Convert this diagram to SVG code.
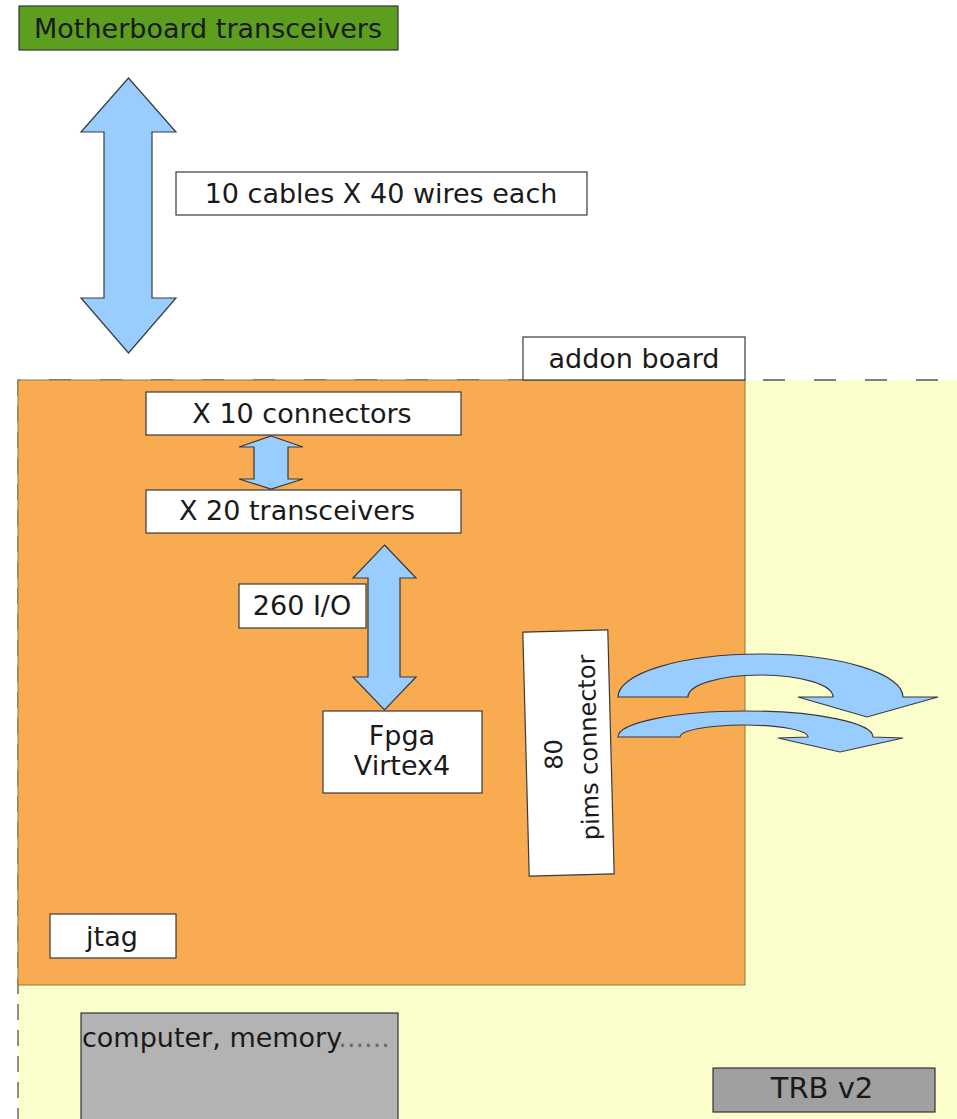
<svg xmlns="http://www.w3.org/2000/svg" width="957" height="1119" viewBox="0 0 957 1119">
<style>
text{font-family:"DejaVu Sans","Liberation Sans",sans-serif;font-size:27px;fill:#1a1a1a;text-anchor:middle}
.box{fill:#fff;stroke:#3a3a3a;stroke-width:1.2}
.arr{fill:#99ccff;stroke:#3a3a3a;stroke-width:1.2;stroke-linejoin:miter}
</style>
<rect width="957" height="1119" fill="#fff"/>
<g id="trb">
<rect x="18" y="380" width="939" height="739" fill="#fbfdca"/>
<path d="M18,380 H957" stroke="#555" stroke-width="1.3" stroke-dasharray="22 29" stroke-dashoffset="20" fill="none"/>
<path d="M18,380 V1119" stroke="#555" stroke-width="1.3" stroke-dasharray="16 10" fill="none"/>
</g>
<g id="addon">
<rect x="18" y="380" width="727" height="605" fill="#f8ab50" stroke="#8a7a40" stroke-width="1"/>
</g>
<g id="motherboard">
<rect x="19" y="6" width="379" height="44" fill="#5c9e1e" stroke="#333" stroke-width="1.2"/>
<text x="208" y="38">Motherboard transceivers</text>
</g>
<g id="cables-label">
<rect class="box" x="176" y="172" width="411" height="43"/>
<text x="381" y="203">10 cables X 40 wires each</text>
</g>
<g id="addon-label">
<rect class="box" x="523" y="337" width="222" height="43"/>
<text x="634" y="368">addon board</text>
</g>
<g id="connectors">
<rect class="box" x="146" y="392" width="315" height="43"/>
<text x="302" y="423">X 10 connectors</text>
</g>
<g id="transceivers">
<rect class="box" x="146" y="490" width="315" height="43"/>
<text x="297" y="520">X 20 transceivers</text>
</g>
<g id="io-label">
<rect class="box" x="239" y="584" width="127" height="44"/>
<text x="302" y="615">260 I/O</text>
</g>
<g id="fpga">
<rect class="box" x="323" y="711" width="159" height="82"/>
<text x="402" y="745">Fpga</text>
<text x="402" y="775">Virtex4</text>
</g>
<g id="pims" transform="rotate(-1.5 568 753)">
<rect class="box" x="526" y="631" width="85" height="244"/>
<text style="font-size:24px" transform="translate(562 754) rotate(-90)">80</text>
<text style="font-size:24px" transform="translate(597 748) rotate(-90)">pims connector</text>
</g>
<g id="jtag">
<rect class="box" x="50" y="914" width="126" height="44"/>
<text x="112" y="946">jtag</text>
</g>
<g id="computer">
<rect x="81" y="1013" width="317" height="110" fill="#b3b3b3" stroke="#333" stroke-width="1.2"/>
<text x="82" y="1047" style="text-anchor:start">computer, memory<tspan fill="#6a6a6a">......</tspan></text>
</g>
<g id="trb-label">
<rect x="713" y="1068" width="222" height="44" fill="#a0a0a0" stroke="#333" stroke-width="1.2"/>
<text x="822" y="1098" style="font-size:29px">TRB v2</text>
</g>
<g id="connectors-arrows">
<path class="arr" d="M128.5,78 L176,132 H152 V298 H176 L128.5,353 L81,298 H104 V132 H81 Z"/>
<path class="arr" d="M271,436 L303,447 H288 V479 H303 L271,489 L239,479 H254 V447 H239 Z"/>
<path class="arr" d="M384.5,545 L416,578 H400 V677 H416 L384.5,710 L353,677 H368 V578 H353 Z"/>
<path class="arr" d="M618,697 A142.5 43 0 0 1 903 697 L938,697 L867,717 L798,697 L833,697 A72.5 22 0 0 0 688 697 Z"/>
<path class="arr" d="M618,737 A127.5 26 0 0 1 873 737 L903,738 L840,752 L778,738 L808,737 A64 12 0 0 0 680 737 Z"/>
</g>
</svg>
